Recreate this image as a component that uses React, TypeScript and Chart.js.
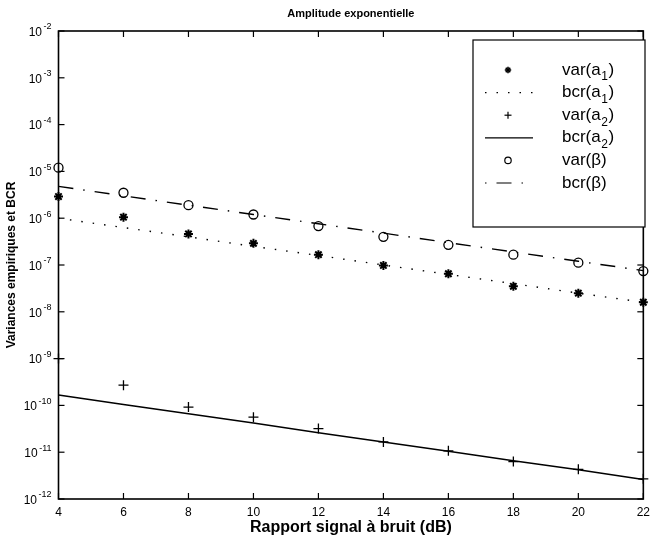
import React, { useEffect, useRef } from 'react';
import { Chart, registerables } from 'chart.js';

Chart.register(...registerables);

const snr = [4, 6, 8, 10, 12, 14, 16, 18, 20, 22];
const varA1 = [2.9e-6, 1.05e-6, 4.6e-7, 2.9e-7, 1.66e-7, 9.8e-8, 6.5e-8, 3.5e-8, 2.5e-8, 1.6e-8];
const bcrA1 = [1.0e-6, 6.3e-7, 4.0e-7, 2.5e-7, 1.6e-7, 1.0e-7, 6.3e-8, 4.0e-8, 2.5e-8, 1.6e-8];
const varA2 = [1.0e-9, 2.7e-10, 9.2e-11, 5.6e-11, 3.2e-11, 1.66e-11, 1.07e-11, 6.3e-12, 4.3e-12, 2.7e-12];
const bcrA2 = [1.66e-10, 1.05e-10, 6.6e-11, 4.2e-11, 2.6e-11, 1.66e-11, 1.05e-11, 6.6e-12, 4.2e-12, 2.6e-12];
const varB = [1.2e-5, 3.5e-6, 1.9e-6, 1.2e-6, 6.8e-7, 4.0e-7, 2.7e-7, 1.66e-7, 1.12e-7, 7.4e-8];
const bcrB = [4.8e-6, 3.0e-6, 1.9e-6, 1.2e-6, 7.6e-7, 4.8e-7, 3.0e-7, 1.9e-7, 1.2e-7, 7.6e-8];

const xTicks = [4, 6, 8, 10, 12, 14, 16, 18, 20, 22];
const yExponents = [-12, -11, -10, -9, -8, -7, -6, -5, -4, -3, -2];

const chartTitle = 'Amplitude exponentielle';
const xTitle = 'Rapport signal à bruit (dB)';
const yTitle = 'Variances empiriques et BCR';

// legend entries: main text, subscript, tail
const legendEntries = [
  { main: 'var(a', sub: '1', tail: ')', kind: 'star' },
  { main: 'bcr(a', sub: '1', tail: ')', kind: 'dot' },
  { main: 'var(a', sub: '2', tail: ')', kind: 'cross' },
  { main: 'bcr(a', sub: '2', tail: ')', kind: 'solid' },
  { main: 'var(β)', sub: '', tail: '', kind: 'circle' },
  { main: 'bcr(β)', sub: '', tail: '', kind: 'dashdot' },
];

const FONT = '"Liberation Sans", Arial, Helvetica, sans-serif';

const pts = (ys: number[]) => snr.map((x, i) => ({ x, y: ys[i] }));

const decor = {
  id: 'decor',
  afterDraw(chart: any) {
    const { ctx, chartArea: a, scales } = chart;
    const xs = scales.x;
    const ys = scales.y;
    const line = (x1: number, y1: number, x2: number, y2: number) => {
      ctx.beginPath();
      ctx.moveTo(x1, y1);
      ctx.lineTo(x2, y2);
      ctx.stroke();
    };
    ctx.save();
    ctx.strokeStyle = '#000';
    ctx.fillStyle = '#000';
    ctx.lineWidth = 1.6;
    ctx.strokeRect(a.left, a.top, a.right - a.left, a.bottom - a.top);
    ctx.lineWidth = 1.2;
    xTicks.forEach((v) => {
      const px = xs.getPixelForValue(v);
      line(px, a.bottom, px, a.bottom - 6);
      line(px, a.top, px, a.top + 6);
    });
    yExponents.forEach((e) => {
      const py = ys.getPixelForValue(Math.pow(10, e));
      line(a.left, py, a.left + 6, py);
      line(a.right, py, a.right - 6, py);
      const right = a.left - 7;
      ctx.font = `9px ${FONT}`;
      ctx.textAlign = 'right';
      ctx.textBaseline = 'middle';
      const expStr = String(e);
      const ew = ctx.measureText(expStr).width;
      ctx.fillText(expStr, right, py - 4);
      ctx.font = `12px ${FONT}`;
      ctx.fillText('10', right - ew - 1.5, py + 1.5);
    });

    // titles
    ctx.textAlign = 'center';
    ctx.textBaseline = 'middle';
    ctx.font = `bold 11px ${FONT}`;
    ctx.fillText(chartTitle, (a.left + a.right) / 2, 14);
    ctx.font = `bold 16px ${FONT}`;
    ctx.fillText(xTitle, (a.left + a.right) / 2, 528);
    ctx.save();
    ctx.translate(12, (a.top + a.bottom) / 2);
    ctx.rotate(-Math.PI / 2);
    ctx.font = `bold 12px ${FONT}`;
    ctx.fillText(yTitle, 0, 0);
    ctx.restore();

    // legend
    const bx = 473, by = 40, bw = 172, bh = 187;
    ctx.fillStyle = '#fff';
    ctx.fillRect(bx, by, bw, bh);
    ctx.strokeStyle = '#000';
    ctx.lineWidth = 1.2;
    ctx.strokeRect(bx, by, bw, bh);
    ctx.fillStyle = '#000';
    const symX = 508;
    const textX = 562;
    legendEntries.forEach((en, i) => {
      const y = 70 + i * 22.6;
      ctx.setLineDash([]);
      ctx.lineWidth = 1.2;
      if (en.kind === 'star') {
        const r = 3.2;
        ctx.lineWidth = 1.6;
        for (let k = 0; k < 4; k++) {
          const ang = (k * Math.PI) / 4;
          line(symX - r * Math.cos(ang), y - r * Math.sin(ang), symX + r * Math.cos(ang), y + r * Math.sin(ang));
        }
      } else if (en.kind === 'cross') {
        const r = 3.5;
        line(symX - r, y, symX + r, y);
        line(symX, y - r, symX, y + r);
      } else if (en.kind === 'circle') {
        ctx.beginPath();
        ctx.arc(symX, y, 3.2, 0, Math.PI * 2);
        ctx.stroke();
      } else if (en.kind === 'dot') {
        ctx.setLineDash([1.5, 10]);
        line(485, y, 533, y);
      } else if (en.kind === 'solid') {
        line(485, y, 533, y);
      } else if (en.kind === 'dashdot') {
        ctx.setLineDash([1.5, 10, 15, 10]);
        line(485, y, 533, y);
      }
      ctx.setLineDash([]);
      ctx.textAlign = 'left';
      ctx.textBaseline = 'middle';
      ctx.font = `17px ${FONT}`;
      let tx = textX;
      ctx.fillText(en.main, tx, y);
      tx += ctx.measureText(en.main).width;
      if (en.sub) {
        ctx.font = `12px ${FONT}`;
        ctx.fillText(en.sub, tx + 0.5, y + 7);
        tx += ctx.measureText(en.sub).width + 1;
        ctx.font = `17px ${FONT}`;
        ctx.fillText(en.tail, tx, y);
      }
    });
    ctx.restore();
  },
};

export default function App() {
  const ref = useRef<HTMLCanvasElement | null>(null);
  useEffect(() => {
    if (!ref.current) return;
    Chart.defaults.font.family = FONT;
    const chart = new Chart(ref.current, {
      type: 'line',
      data: {
        datasets: [
          {
            label: 'var(a1)',
            data: pts(varA1),
            showLine: false,
            pointStyle: 'star',
            pointRadius: 4.5,
            borderColor: '#000',
            backgroundColor: '#000',
            pointBorderWidth: 2,
            clip: false,
          },
          {
            label: 'bcr(a1)',
            data: pts(bcrA1),
            borderColor: '#000',
            borderWidth: 1.4,
            borderDash: [1.5, 10],
            pointRadius: 0,
            fill: false,
          },
          {
            label: 'var(a2)',
            data: pts(varA2),
            showLine: false,
            pointStyle: 'cross',
            pointRadius: 5,
            borderColor: '#000',
            pointBorderWidth: 1.3,
            clip: false,
          },
          {
            label: 'bcr(a2)',
            data: pts(bcrA2),
            borderColor: '#000',
            borderWidth: 1.5,
            pointRadius: 0,
            fill: false,
          },
          {
            label: 'var(β)',
            data: pts(varB),
            showLine: false,
            pointStyle: 'circle',
            pointRadius: 4.5,
            borderColor: '#000',
            backgroundColor: 'rgba(0,0,0,0)',
            pointBorderWidth: 1.3,
            clip: false,
          },
          {
            label: 'bcr(β)',
            data: pts(bcrB),
            borderColor: '#000',
            borderWidth: 1.4,
            borderDash: [15, 10, 1.5, 10],
            pointRadius: 0,
            fill: false,
          },
        ],
      },
      options: {
        animation: false,
        responsive: false,
        devicePixelRatio: 1,
        layout: { padding: { top: 31, left: 0, right: 5, bottom: 0 } },
        plugins: {
          legend: { display: false },
          title: { display: false },
          tooltip: { enabled: false },
        },
        scales: {
          x: {
            type: 'linear',
            min: 4,
            max: 22,
            grid: { display: false, drawTicks: false },
            border: { display: false },
            ticks: {
              stepSize: 2,
              color: '#000',
              font: { size: 12, family: FONT },
              padding: 6,
              maxRotation: 0,
              autoSkip: false,
            },
            afterFit: (s: any) => {
              s.height = 42;
            },
          },
          y: {
            type: 'logarithmic',
            min: 1e-12,
            max: 1e-2,
            grid: { display: false, drawTicks: false },
            border: { display: false },
            ticks: { display: false },
            afterBuildTicks: (s: any) => {
              s.ticks = yExponents.map((e) => ({ value: Math.pow(10, e) }));
            },
            afterFit: (s: any) => {
              s.width = 58.5;
            },
          },
        },
      },
      plugins: [decor],
    } as any);
    return () => chart.destroy();
  }, []);
  return (
    <div style={{ position: 'fixed', left: 0, top: 0, width: 656, height: 541, background: '#fff' }}>
      <canvas ref={ref} width={656} height={541} style={{ display: 'block' }} />
    </div>
  );
}
